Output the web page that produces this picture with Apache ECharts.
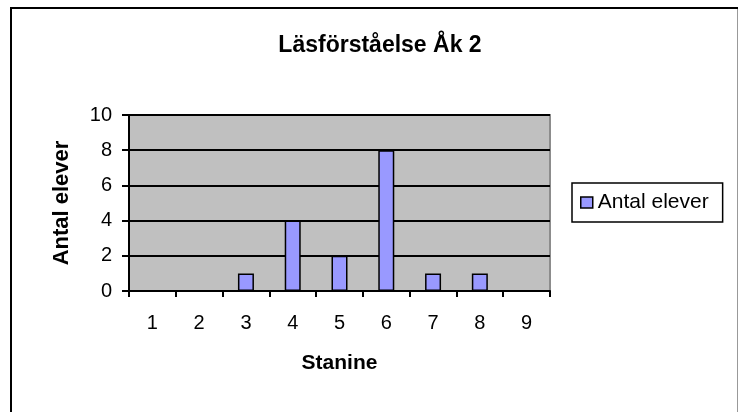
<!DOCTYPE html>
<html><head><meta charset="utf-8">
<script src="https://cdn.jsdelivr.net/npm/echarts@6/dist/echarts.min.js"></script>
<style>html,body{margin:0;padding:0;background:#fff}#c{width:739px;height:412px}</style>
</head><body><div id="c"></div>
<script>
const categories = ['1','2','3','4','5','6','7','8','9'];
const antalElever = [0,0,1,4,2,8,1,1,0];
const yTicks = {min:0, max:10, interval:2};

const chart = echarts.init(document.getElementById('c'));
const FONT = '"Liberation Sans", Arial, sans-serif';
chart.setOption({
  animation:false,
  backgroundColor:'#fff',
  title:{text:'Läsförståelse Åk 2', left:375, top:29, textAlign:'center',
    textStyle:{fontFamily:FONT, fontSize:23, fontWeight:'bold', color:'#000'}},
  legend:{left:572, top:183, orient:'vertical', padding:[7,14,7,8],
    borderColor:'#000', borderWidth:1.5, itemWidth:12, itemHeight:11, icon:'rect',
    itemStyle:{color:'#9999FF', borderColor:'#000', borderWidth:1.5},
    textStyle:{fontFamily:FONT, fontSize:21, color:'#000', lineHeight:25}},
  grid:{left:129, right:189, top:115, bottom:121, show:true, backgroundColor:'#C0C0C0',
    borderColor:'#8c8c8c', borderWidth:2},
  xAxis:{type:'category', data:categories, name:'Stanine', nameLocation:'middle', nameGap:62,
    nameTextStyle:{fontFamily:FONT, fontSize:21, fontWeight:'bold', color:'#000'},
    axisLine:{lineStyle:{color:'#000', width:2}},
    axisTick:{show:true, length:6, lineStyle:{color:'#000', width:2}},
    axisLabel:{fontFamily:FONT, fontSize:20, color:'#000', margin:22}},
  yAxis:{type:'value', min:yTicks.min, max:yTicks.max, interval:yTicks.interval,
    name:'Antal elever', nameLocation:'middle', nameGap:56,
    nameTextStyle:{fontFamily:FONT, fontSize:22, fontWeight:'bold', color:'#000'},
    axisLine:{show:true, lineStyle:{color:'#000', width:2}},
    axisTick:{show:true, length:7, lineStyle:{color:'#000', width:2}},
    axisLabel:{fontFamily:FONT, fontSize:20, color:'#000', margin:17},
    splitLine:{show:true, lineStyle:{color:'#000', width:2}}},
  series:[{name:'Antal elever', type:'bar', data:antalElever, barWidth:16,
    itemStyle:{color:'#9999FF', borderColor:'#000', borderWidth:1.5}}],
  graphic:[
    {type:'line', shape:{x1:10, y1:8, x2:738, y2:8}, style:{stroke:'#000', lineWidth:2}},
    {type:'line', shape:{x1:11, y1:8, x2:11, y2:412}, style:{stroke:'#000', lineWidth:2}},
    {type:'line', shape:{x1:737.5, y1:9, x2:737.5, y2:412}, style:{stroke:'#999', lineWidth:1}}
  ]
});
</script></body></html>
